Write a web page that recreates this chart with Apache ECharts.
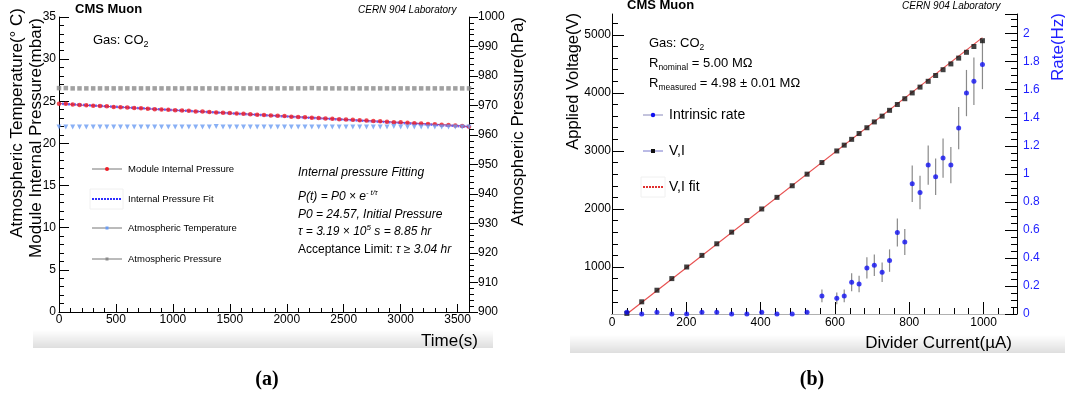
<!DOCTYPE html>
<html><head><meta charset="utf-8">
<script src="https://cdn.jsdelivr.net/npm/echarts@6/dist/echarts.min.js"></script>
<style>html,body{margin:0;padding:0;background:#fff}#c{width:1065px;height:403px}</style>
</head><body><div id="c"></div><script>
// ---------- Panel (a) data ----------
const timeS = [0,60,120,180,240,300,360,420,480,540,600,660,720,780,840,900,960,1020,1080,1140,1200,1260,1320,1380,1440,1500,1560,1620,1680,1740,1800,1860,1920,1980,2040,2100,2160,2220,2280,2340,2400,2460,2520,2580,2640,2700,2760,2820,2880,2940,3000,3060,3120,3180,3240,3300,3360,3420,3480,3540,3600];
const moduleP = [24.72,24.70,24.62,24.55,24.52,24.48,24.44,24.40,24.33,24.30,24.26,24.20,24.17,24.12,24.06,24.04,24.00,23.94,23.90,23.87,23.80,23.78,23.72,23.68,23.64,23.60,23.54,23.52,23.46,23.40,23.38,23.32,23.28,23.24,23.18,23.15,23.10,23.06,23.01,22.96,22.93,22.88,22.84,22.80,22.74,22.71,22.66,22.62,22.58,22.52,22.50,22.44,22.40,22.36,22.30,22.27,22.22,22.18,22.12,22.08,21.98];
const atmT = [21.95,21.95,21.95,21.95,21.95,21.95,21.95,21.95,21.95,21.95,21.95,21.95,21.95,21.95,21.95,21.95,21.95,21.95,21.95,21.95,21.95,21.95,21.95,22.0,21.95,21.95,21.95,21.95,21.95,21.95,21.95,21.95,21.95,21.95,21.95,21.95,21.95,21.95,21.95,21.95,21.95,21.95,21.95,21.95,21.95,21.95,21.95,21.95,21.95,22.0,21.95,21.95,21.95,21.95,21.95,21.95,21.95,21.95,21.95,21.95,21.95];
const atmP = [975.9,975.9,975.8,975.8,975.8,975.8,975.8,975.8,975.8,975.8,975.8,975.8,975.8,975.8,975.8,975.8,975.8,975.8,975.8,975.8,975.8,975.8,975.8,975.8,975.8,975.8,975.8,975.8,975.8,975.8,975.8,975.8,975.8,975.8,975.8,975.8,975.8,975.9,975.8,975.8,975.8,975.8,975.8,975.8,975.8,975.8,975.8,975.8,975.8,975.8,975.8,975.8,975.8,975.8,975.8,975.8,975.8,975.8,975.8,975.8,975.8];
const fitT = [0, 3600];
const fitP = [24.72, 21.98];

// ---------- Panel (b) data ----------
const currentUA = [40,80,121,161,201,242,282,322,363,403,444,485,525,565,605,625,645,665,686,706,727,747,768,788,808,829,851,871,891,912,933,954,974,997];
const voltageV = [200,400,600,800,1000,1200,1400,1600,1800,2000,2200,2400,2600,2800,3000,3100,3200,3300,3400,3500,3600,3700,3800,3900,4000,4100,4200,4300,4400,4500,4600,4700,4800,4900];
const rateHz = [0.012,0,0.012,0,0,0.012,0.012,0,0,0.012,0,0,0.012,0.129,0.112,0.129,0.226,0.214,0.329,0.348,0.298,0.381,0.581,0.514,0.929,0.867,1.062,0.979,1.112,1.062,1.326,1.576,1.66,1.779];
const rateErr = [0.01,0,0.01,0,0,0.01,0.01,0,0,0.01,0,0,0.01,0.045,0.042,0.045,0.064,0.058,0.075,0.077,0.07,0.08,0.1,0.093,0.13,0.12,0.14,0.13,0.14,0.13,0.15,0.165,0.17,0.175];
const fitI = [40, 997];
const fitV = [190, 4953];

// tick values
const voltTicks = [1000,2000,3000,4000,5000];
const voltMinor = [400,600,800,1200,1400,1600,1800,2200,2400,2600,2800,3200,3400,3600,3800,4200,4400,4600,4800,5200];

const FF = 'Liberation Sans, Arial, Helvetica, sans-serif';
const chart = echarts.init(document.getElementById('c'), null, {renderer:'canvas'});
const zip = (a,b) => a.map((v,i)=>[v,b[i]]);
const black = {color:'#000', width:1};
const plain = v => String(Math.round(v*1000)/1000);

function valAxis(o){
  return Object.assign({
    type:'value', splitLine:{show:false},
    axisLine:{show:true, onZero:false, lineStyle:black},
    nameTextStyle:{fontFamily:FF}
  }, o);
}
function lab(o){ return Object.assign({color:'#000', fontSize:12, fontFamily:FF, formatter:plain}, o); }

const option = {
  animation:false,
  grid:[
    {left:59, top:17, width:410, height:295},
    {left:612, top:14, width:405, height:300}
  ],
  xAxis:[
    valAxis({gridIndex:0, min:0, max:3600, interval:500,
      axisTick:{inside:true, length:8, lineStyle:black},
      minorTick:{show:true, splitNumber:5, length:4, lineStyle:black},
      axisLabel:lab({margin:2, showMaxLabel:false})}),
    valAxis({gridIndex:1, min:0, max:1090, interval:200,
      axisTick:{inside:true, length:12, lineStyle:black},
      minorTick:{show:true, splitNumber:5, length:6, lineStyle:black},
      axisLabel:lab({margin:3, showMaxLabel:false})}),
    valAxis({gridIndex:1, position:'top', min:0, max:1090,
      axisLine:{show:true, lineStyle:{color:'#b0b0b0', width:1}},
      axisTick:{show:false}, axisLabel:{show:false}})
  ],
  yAxis:[
    valAxis({gridIndex:0, position:'left', min:0, max:35, interval:5,
      axisTick:{inside:true, length:10, lineStyle:black},
      minorTick:{show:true, splitNumber:5, length:5, lineStyle:black},
      axisLabel:lab({margin:3})}),
    valAxis({gridIndex:0, position:'right', min:900, max:1000, interval:10,
      axisTick:{inside:false, length:9, lineStyle:black},
      minorTick:{show:true, splitNumber:5, length:5, lineStyle:black},
      axisLabel:lab({margin:9})}),
    valAxis({gridIndex:1, position:'left', min:190, max:5360,
      axisTick:{inside:true, length:12, lineStyle:black, customValues:voltTicks},
      axisLabel:lab({margin:1, customValues:voltTicks})}),
    valAxis({gridIndex:1, position:'right', min:0, max:2.14, interval:0.2,
      axisTick:{inside:true, length:12, lineStyle:black},
      minorTick:{show:true, splitNumber:4, length:6, lineStyle:black},
      axisLabel:lab({color:'#1f1fff', margin:6, showMaxLabel:false})}),
    valAxis({gridIndex:1, position:'left', min:190, max:5360,
      axisLine:{show:false},
      axisTick:{inside:true, length:6, lineStyle:black, customValues:voltMinor},
      axisLabel:{show:false}})
  ],
  series:[
    {name:'Module Internal Pressure line', type:'line', xAxisIndex:0, yAxisIndex:0, data:zip(timeS,moduleP),
      showSymbol:false, lineStyle:{color:'#e03030', width:1}, z:2},
    {name:'Internal Pressure Fit', type:'line', xAxisIndex:0, yAxisIndex:0, data:zip(fitT,fitP),
      showSymbol:false, lineStyle:{color:'#5c5cff', width:2.5, type:[2,1], opacity:0.9}, z:3},
    {name:'Module Internal Pressure', type:'scatter', xAxisIndex:0, yAxisIndex:0, data:zip(timeS,moduleP),
      symbol:'circle', symbolSize:4.5, itemStyle:{color:'#ee1c25'}, z:4},
    {name:'Atmospheric Temperature', type:'scatter', xAxisIndex:0, yAxisIndex:0, data:zip(timeS,atmT),
      symbol:'triangle', symbolRotate:180, symbolSize:5, itemStyle:{color:'#6b9cf2'}, z:4},
    {name:'Atmospheric Pressure', type:'scatter', xAxisIndex:0, yAxisIndex:1, data:zip(timeS,atmP),
      symbol:'rect', symbolSize:4.5, itemStyle:{color:'#8a8a8a'}, z:4},
    {name:'V,I fit', type:'line', xAxisIndex:1, yAxisIndex:2, data:zip(fitI,fitV),
      showSymbol:false, lineStyle:{color:'#e85050', width:1.2}, z:2},
    {name:'V,I', type:'scatter', xAxisIndex:1, yAxisIndex:2, data:zip(currentUA,voltageV),
      symbol:'rect', symbolSize:5, itemStyle:{color:'#111'}, z:4},
    {name:'rate err', type:'custom', xAxisIndex:1, yAxisIndex:3,
      data:currentUA.map((c,i)=>[c, rateHz[i]-rateErr[i], rateHz[i]+rateErr[i]]),
      encode:{x:0, y:[1,2]},
      renderItem:function(params, api){
        const x = api.value(0);
        const lo = api.coord([x, api.value(1)]);
        const hi = api.coord([x, api.value(2)]);
        return {type:'line', shape:{x1:lo[0], y1:lo[1], x2:hi[0], y2:hi[1]}, style:{stroke:'#8a8a8a', lineWidth:1.2}};
      }, z:3},
    {name:'Intrinsic rate', type:'scatter', xAxisIndex:1, yAxisIndex:3, data:zip(currentUA,rateHz),
      symbol:'circle', symbolSize:5, itemStyle:{color:'#1010f0'}, z:5}
  ],
  graphic:[]
};

const G = option.graphic;
function txt(x,y,text,font,extra){ G.push({type:'text', x:x, y:y, silent:true, style:Object.assign({text:text, font:font, fill:'#000', textAlign:'left', textVerticalAlign:'middle'}, extra||{})}); }
function line(x1,y1,x2,y2,stroke,w,dash){ G.push({type:'line', silent:true, shape:{x1,y1,x2,y2}, style:{stroke, lineWidth:w||1, lineDash:dash||null}}); }
function rect(x,y,w,h,style){ G.push({type:'rect', silent:true, shape:{x,y,width:w,height:h}, style}); }

// shadow bands
rect(33,330,460,18,{fill:new echarts.graphic.LinearGradient(0,0,0,1,[{offset:0,color:'rgba(0,0,0,0)'},{offset:1,color:'rgba(0,0,0,0.13)'}])});
rect(570,335,495,18,{fill:new echarts.graphic.LinearGradient(0,0,0,1,[{offset:0,color:'rgba(0,0,0,0)'},{offset:1,color:'rgba(0,0,0,0.13)'}])});

// ---- Panel (a) texts ----
txt(75,9,'CMS Muon','bold 13px '+FF);
txt(358,10,'CERN 904 Laboratory','italic 10px '+FF);
G.push({type:'text', x:93, y:40, silent:true, style:{text:'{m|Gas: CO}{s|2}', textVerticalAlign:'middle', rich:{m:{font:'13px '+FF, lineHeight:18, fill:'#000'}, s:{font:'9px '+FF, lineHeight:9, verticalAlign:'bottom', fill:'#000'}}}});
G.push({type:'text', x:17, y:8, rotation:Math.PI/2, silent:true, style:{text:'Atmospheric Temperature(° C)', font:'17px '+FF, fill:'#000', textAlign:'right', textVerticalAlign:'middle'}});
G.push({type:'text', x:36, y:18, rotation:Math.PI/2, silent:true, style:{text:'Module Internal Pressure(mbar)', font:'17px '+FF, fill:'#000', textAlign:'right', textVerticalAlign:'middle'}});
G.push({type:'text', x:518, y:17, rotation:Math.PI/2, silent:true, style:{text:'Atmospheric Pressure(hPa)', font:'17px '+FF, fill:'#000', textAlign:'right', textVerticalAlign:'middle'}});
txt(478,341,'Time(s)','17px '+FF,{textAlign:'right'});

// legend (a)
line(92,169,122,169,'#777',1); G.push({type:'circle', silent:true, shape:{cx:107,cy:169,r:2}, style:{fill:'#ee1c25'}});
txt(128,169,'Module Internal Pressure','9.5px '+FF);
rect(90,189,33,20,{fill:'none', stroke:'#f0f0f0'});
line(92,199,122,199,'#2e2eff',2,[2,1]);
txt(128,199,'Internal Pressure Fit','9.5px '+FF);
line(92,228,122,228,'#777',1); rect(105.5,226.5,3,3,{fill:'#6b9cf2'});
txt(128,228,'Atmospheric Temperature','9.5px '+FF);
line(92,259,122,259,'#777',1); rect(105.5,257.5,3,3,{fill:'#8a8a8a'});
txt(128,259,'Atmospheric Pressure','9.5px '+FF);

// fit text (a)
const it12 = 'italic 12px '+FF;
txt(298,173,'Internal pressure Fitting',it12);
G.push({type:'text', x:298, y:197, silent:true, style:{text:'{m|P(t) = P0 × e}{s|- t/τ}', textVerticalAlign:'middle', rich:{m:{font:it12, lineHeight:16, fill:'#000'}, s:{font:'italic 7.5px '+FF, lineHeight:8, verticalAlign:'top', fill:'#000'}}}});
txt(298,215,'P0 = 24.57, Initial Pressure',it12);
G.push({type:'text', x:298, y:232, silent:true, style:{text:'{m|τ = 3.19 × 10}{s|5}{m| s = 8.85 hr}', textVerticalAlign:'middle', rich:{m:{font:it12, lineHeight:16, fill:'#000'}, s:{font:'italic 8px '+FF, lineHeight:8, verticalAlign:'top', fill:'#000'}}}});
G.push({type:'text', x:298, y:250, silent:true, style:{text:'{n|Acceptance Limit: }{m|τ ≥ 3.04 hr}', textVerticalAlign:'middle', rich:{n:{font:'12px '+FF, lineHeight:16, fill:'#000'}, m:{font:it12, lineHeight:16, fill:'#000'}}}});

// ---- Panel (b) texts ----
txt(627,5,'CMS Muon','bold 13px '+FF);
txt(902,6,'CERN 904 Laboratory','italic 10px '+FF);
const bRich = {m:{font:'13px '+FF, lineHeight:18, fill:'#000'}, s:{font:'8.5px '+FF, lineHeight:9, verticalAlign:'bottom', fill:'#000'}};
G.push({type:'text', x:649, y:43, silent:true, style:{text:'{m|Gas: CO}{s|2}', textVerticalAlign:'middle', rich:bRich}});
G.push({type:'text', x:649, y:63, silent:true, style:{text:'{m|R}{s|nominal}{m| = 5.00 MΩ}', textVerticalAlign:'middle', rich:bRich}});
G.push({type:'text', x:649, y:83, silent:true, style:{text:'{m|R}{s|measured}{m| = 4.98 ± 0.01 MΩ}', textVerticalAlign:'middle', rich:bRich}});
G.push({type:'text', x:573, y:13, rotation:Math.PI/2, silent:true, style:{text:'Applied Voltage(V)', font:'16.5px '+FF, fill:'#000', textAlign:'right', textVerticalAlign:'middle'}});
G.push({type:'text', x:1058, y:13, rotation:Math.PI/2, silent:true, style:{text:'Rate(Hz)', font:'17px '+FF, fill:'#1f1fff', textAlign:'right', textVerticalAlign:'middle'}});
txt(1012,343,'Divider Current(µA)','17px '+FF,{textAlign:'right'});

// legend (b)
line(643,115,663,115,'#8888bb',1); G.push({type:'circle', silent:true, shape:{cx:653,cy:115,r:2.2}, style:{fill:'#1010f0'}});
txt(669,115,'Intrinsic rate','14px '+FF);
line(643,151,663,151,'#7777cc',1); rect(651,149,4,4,{fill:'#111'});
txt(669,151,'V,I','14px '+FF);
rect(641,177,24,20,{fill:'none', stroke:'#f0f0f0'});
line(643,187,663,187,'#e03030',2,[2,1]);
txt(669,187,'V,I fit','14px '+FF);

// panel labels
txt(267,380,'(a)','bold 20px Liberation Serif, Times New Roman, serif',{textAlign:'center'});
txt(812,380,'(b)','bold 20px Liberation Serif, Times New Roman, serif',{textAlign:'center'});

chart.setOption(option);
</script></body></html>
